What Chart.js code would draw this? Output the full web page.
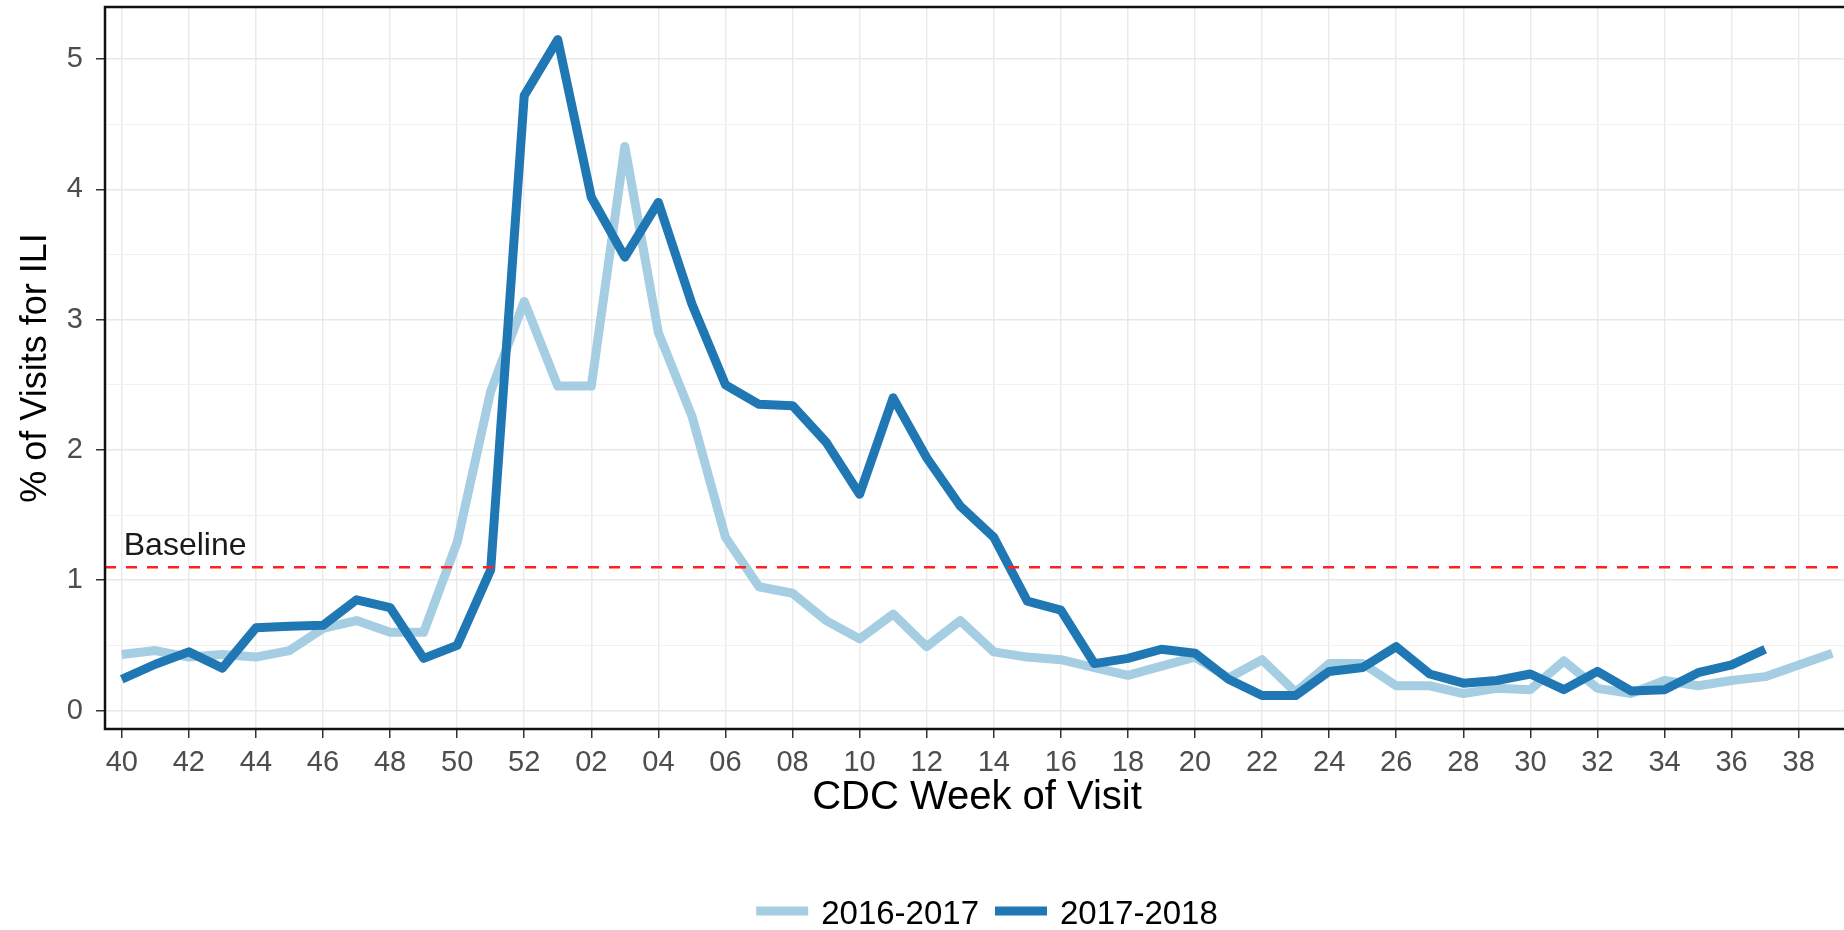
<!DOCTYPE html>
<html>
<head>
<meta charset="utf-8">
<title>ILI visits by CDC week</title>
<script src="https://cdn.jsdelivr.net/npm/chart.js@4.4.1/dist/chart.umd.min.js"></script>
<style>
    html, body { margin: 0; padding: 0; background: #fff; overflow: hidden; }
    #wrap { width: 1974px; height: 930px; }
</style>
</head>
<body>
<div id="wrap"><canvas id="iliChart" width="1974" height="930"></canvas></div>
<script>
// CDC weeks, season runs week 40 -> week 39
const weeks = ['40', '41', '42', '43', '44', '45', '46', '47', '48', '49', '50', '51', '52',
    '01', '02', '03', '04', '05', '06', '07', '08', '09', '10', '11', '12', '13', '14', '15',
    '16', '17', '18', '19', '20', '21', '22', '23', '24', '25', '26', '27', '28', '29', '30',
    '31', '32', '33', '34', '35', '36', '37', '38', '39'];

// % of visits for ILI
const season1617 = [0.43, 0.46, 0.41, 0.43, 0.41, 0.46, 0.63, 0.69, 0.60, 0.60, 1.29, 2.45, 3.14,
    2.49, 2.49, 4.33, 2.90, 2.26, 1.33, 0.95, 0.90, 0.69, 0.55, 0.74, 0.49, 0.69, 0.45, 0.41,
    0.39, 0.33, 0.27, 0.34, 0.41, 0.25, 0.39, 0.14, 0.36, 0.36, 0.19, 0.19, 0.13, 0.17, 0.16,
    0.38, 0.17, 0.13, 0.23, 0.19, 0.23, 0.26, 0.35, 0.44];
const season1718 = [0.24, 0.355, 0.45, 0.325, 0.635, 0.646, 0.654, 0.85, 0.79, 0.40, 0.50, 1.08, 4.72,
    5.15, 3.94, 3.48, 3.90, 3.12, 2.50, 2.35, 2.34, 2.06, 1.66, 2.40, 1.94, 1.57, 1.33, 0.84,
    0.77, 0.36, 0.40, 0.47, 0.44, 0.24, 0.115, 0.115, 0.30, 0.33, 0.49, 0.28, 0.21, 0.23, 0.28,
    0.16, 0.30, 0.15, 0.16, 0.29, 0.35, 0.47];

const seasonNames = ['2016-2017', '2017-2018'];
const seasonColors = ['#a6cee3', '#1f78b4'];
const baselineValue = 1.1;
const baselineLabel = 'Baseline';

const FONT = '"Liberation Sans", Arial, sans-serif';

// dashed baseline + its label
const baselinePlugin = {
    id: 'baseline',
    afterDatasetsDraw(chart) {
        const {ctx, chartArea, scales: {x, y}} = chart;
        const py = y.getPixelForValue(baselineValue);
        ctx.save();
        ctx.beginPath();
        ctx.rect(chartArea.left, chartArea.top, chartArea.right - chartArea.left, chartArea.bottom - chartArea.top);
        ctx.clip();
        ctx.beginPath();
        ctx.strokeStyle = '#ff2020';
        ctx.lineWidth = 2.5;
        ctx.setLineDash([11, 10]);
        ctx.moveTo(chartArea.left, py);
        ctx.lineTo(chartArea.right, py);
        ctx.stroke();
        ctx.setLineDash([]);
        ctx.font = '32px ' + FONT;
        ctx.fillStyle = '#1a1a1a';
        ctx.textBaseline = 'alphabetic';
        ctx.fillText(baselineLabel, x.getPixelForValue(0) + 2, py - 12);
        ctx.restore();
    }
};

// panel border like ggplot theme_bw
const panelBorder = {
    id: 'panelBorder',
    afterDraw(chart) {
        const {ctx, chartArea} = chart;
        ctx.save();
        ctx.strokeStyle = '#111';
        ctx.lineWidth = 2.5;
        ctx.strokeRect(chartArea.left, chartArea.top, chartArea.right - chartArea.left, chartArea.bottom - chartArea.top);
        ctx.restore();
    }
};

// legend under the axis title
const bottomLegend = {
    id: 'bottomLegend',
    afterDraw(chart) {
        const ctx = chart.ctx;
        const keyW = 52, keyH = 9, gapText = 13, gapItem = 16;
        ctx.save();
        ctx.font = '33px ' + FONT;
        const widths = seasonNames.map(n => ctx.measureText(n).width);
        const total = widths.reduce((sum, w) => sum + keyW + gapText + w, 0) + gapItem * (seasonNames.length - 1);
        let x = 987 - total / 2;
        ctx.textBaseline = 'middle';
        seasonNames.forEach((name, i) => {
            ctx.fillStyle = seasonColors[i];
            ctx.fillRect(x, 911 - keyH / 2, keyW, keyH);
            x += keyW + gapText;
            ctx.fillStyle = '#000';
            ctx.fillText(name, x, 915);
            x += widths[i] + gapItem;
        });
        ctx.restore();
    }
};

const isWhole = v => Math.abs(v - Math.round(v)) < 1e-9;

new Chart(document.getElementById('iliChart'), {
    type: 'line',
    data: {
        labels: weeks,
        datasets: [
            {
                label: seasonNames[0],
                data: season1617,
                borderColor: seasonColors[0],
                backgroundColor: seasonColors[0],
                borderWidth: 9,
                pointRadius: 0,
                tension: 0,
                borderJoinStyle: 'round',
                order: 1
            },
            {
                label: seasonNames[1],
                data: season1718,
                borderColor: seasonColors[1],
                backgroundColor: seasonColors[1],
                borderWidth: 9,
                pointRadius: 0,
                tension: 0,
                borderJoinStyle: 'round',
                order: 0
            }
        ]
    },
    options: {
        responsive: false,
        devicePixelRatio: 1,
        animation: false,
        events: [],
        layout: {padding: {top: 7, right: 125, bottom: 0, left: 0}},
        plugins: {
            legend: {display: false},
            tooltip: {enabled: false}
        },
        scales: {
            x: {
                type: 'category',
                offset: true,
                afterFit: s => { s.height = 201; s.paddingLeft = 0; s.paddingRight = 0; },
                border: {display: false},
                grid: {
                    offset: false,
                    color: ctx => ctx.index % 2 === 0 ? '#ebebeb' : 'rgba(0,0,0,0)',
                    lineWidth: 1.5,
                    tickColor: ctx => ctx.index % 2 === 0 ? '#333' : 'rgba(0,0,0,0)',
                    tickLength: 9,
                    tickWidth: 1.5
                },
                ticks: {
                    autoSkip: false,
                    maxRotation: 0,
                    padding: 8,
                    color: '#4d4d4d',
                    font: {family: FONT, size: 29},
                    callback: function (value, index) {
                        return index % 2 === 0 ? this.getLabelForValue(value) : '';
                    }
                },
                title: {
                    display: true,
                    text: 'CDC Week of Visit',
                    color: '#000',
                    font: {family: FONT, size: 40},
                    padding: {top: 0, bottom: 108}
                }
            },
            y: {
                min: -0.142,
                max: 5.40,
                afterFit: s => { s.width = 105; s.paddingTop = 0; s.paddingBottom = 0; },
                border: {display: false},
                grid: {
                    color: ctx => ctx.tick && isWhole(ctx.tick.value) ? '#e8e8e8' : '#f1f1f1',
                    lineWidth: ctx => ctx.tick && isWhole(ctx.tick.value) ? 1.5 : 1,
                    tickColor: ctx => ctx.tick && isWhole(ctx.tick.value) ? '#333' : 'rgba(0,0,0,0)',
                    tickLength: 9,
                    tickWidth: 1.5
                },
                ticks: {
                    stepSize: 0.5,
                    includeBounds: false,
                    padding: 13,
                    color: '#4d4d4d',
                    font: {family: FONT, size: 29},
                    callback: v => isWhole(v) ? String(Math.round(v)) : ''
                },
                title: {
                    display: true,
                    text: '% of Visits for ILI',
                    color: '#000',
                    font: {family: FONT, size: 36},
                    padding: {top: 14, bottom: 0}
                }
            }
        }
    },
    plugins: [baselinePlugin, panelBorder, bottomLegend]
});
</script>
</body>
</html>
